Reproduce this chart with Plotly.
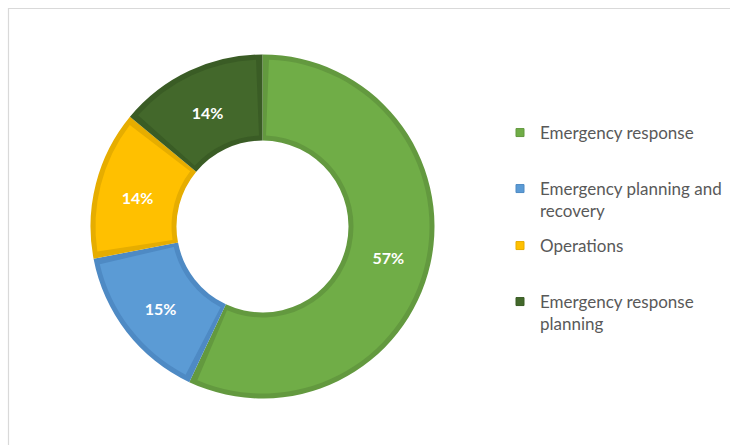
import math
import plotly.graph_objects as go

# ---------------- data ----------------
categories = ["Emergency response", "Emergency planning and recovery",
              "Operations", "Emergency response planning"]
legend_lines = [["Emergency response"], ["Emergency planning and", "recovery"],
                ["Operations"], ["Emergency response", "planning"]]
values = [57, 15, 14, 14]
fill_colors = ["#70AD47", "#5B9BD5", "#FFC000", "#43682B"]
edge_colors = ["#63993F", "#4E8AC4", "#E6AD00", "#3A5C25"]

# ---------------- geometry (pixels) ----------------
W, H = 730, 445
cx, cy = 262.5, 226.5
R_OUT, R_IN = 172, 86
EDGE = 5
LABEL_DY = 3
FONT = "Lato, 'Open Sans', sans-serif"


def dom(r, dy=0.0):
    return dict(x=[(cx - r) / W, (cx + r) / W],
                y=[1 - (cy + dy + r) / H, 1 - (cy + dy - r) / H])


total = sum(values)
gap = EDGE / ((R_OUT + R_IN) / 2) / (2 * math.pi) * total

light_vals, light_cols, light_labels = [], [], []
for i, (v, c) in enumerate(zip(values, fill_colors)):
    light_vals += [gap, v - 2 * gap, gap]
    light_cols += ["rgba(0,0,0,0)", c, "rgba(0,0,0,0)"]
    light_labels += [f"g{i}a", categories[i] + " ", f"g{i}b"]

fig = go.Figure()

common = dict(sort=False, direction="clockwise", rotation=0,
              showlegend=False, hoverinfo="skip", textinfo="none")

# outer (edge colour) ring
fig.add_trace(go.Pie(labels=categories, values=values, hole=R_IN / R_OUT,
                     domain=dom(R_OUT),
                     marker=dict(colors=edge_colors, line=dict(width=0)),
                     **common))
# inner (fill colour) ring, inset by EDGE
fig.add_trace(go.Pie(labels=light_labels, values=light_vals,
                     hole=(R_IN + EDGE) / (R_OUT - EDGE),
                     domain=dom(R_OUT - EDGE),
                     marker=dict(colors=light_cols, line=dict(width=0)),
                     **common))
# transparent ring carrying the percentage labels
lab = dict(common)
lab.pop("textinfo")
fig.add_trace(go.Pie(labels=categories, values=values, hole=R_IN / R_OUT,
                     domain=dom(R_OUT, LABEL_DY),
                     marker=dict(colors=["rgba(0,0,0,0)"] * 4, line=dict(width=0)),
                     texttemplate="%{percent:.0%}", textposition="inside",
                     insidetextorientation="horizontal",
                     textfont=dict(family=FONT, size=16, color="white", weight="bold"),
                     **lab))

# legend entries (one legend per item for exact spacing)
legend_tops = [115, 171, 228, 284]
layout_legends = {}
for i, (lines, fc, ec) in enumerate(zip(legend_lines, fill_colors, edge_colors)):
    key = "legend" if i == 0 else f"legend{i + 1}"
    name = "<br>".join(lines)
    fig.add_trace(go.Scatter(x=[None], y=[None], mode="markers", name=name,
                             marker=dict(symbol="square", size=8, color=fc,
                                         line=dict(color=ec, width=1)),
                             legend=key, showlegend=True, hoverinfo="skip"))
    layout_legends[key] = dict(x=500 / W, y=1 - legend_tops[i] / H,
                               xanchor="left", yanchor="top",
                               bgcolor="rgba(0,0,0,0)", borderwidth=0,
                               valign="top",
                               font=dict(family=FONT, size=17, color="#595959"))

fig.update_layout(
    width=W, height=H,
    margin=dict(l=0, r=0, t=0, b=0),
    paper_bgcolor="white", plot_bgcolor="white",
    xaxis=dict(visible=False), yaxis=dict(visible=False),
    shapes=[dict(type="rect", xref="paper", yref="paper",
                 x0=8.5 / W, x1=1.05, y0=-0.05, y1=1 - 8.5 / H,
                 line=dict(color="#D9D9D9", width=1.2), layer="below")],
    **layout_legends,
)

fig.write_html("out.html")
